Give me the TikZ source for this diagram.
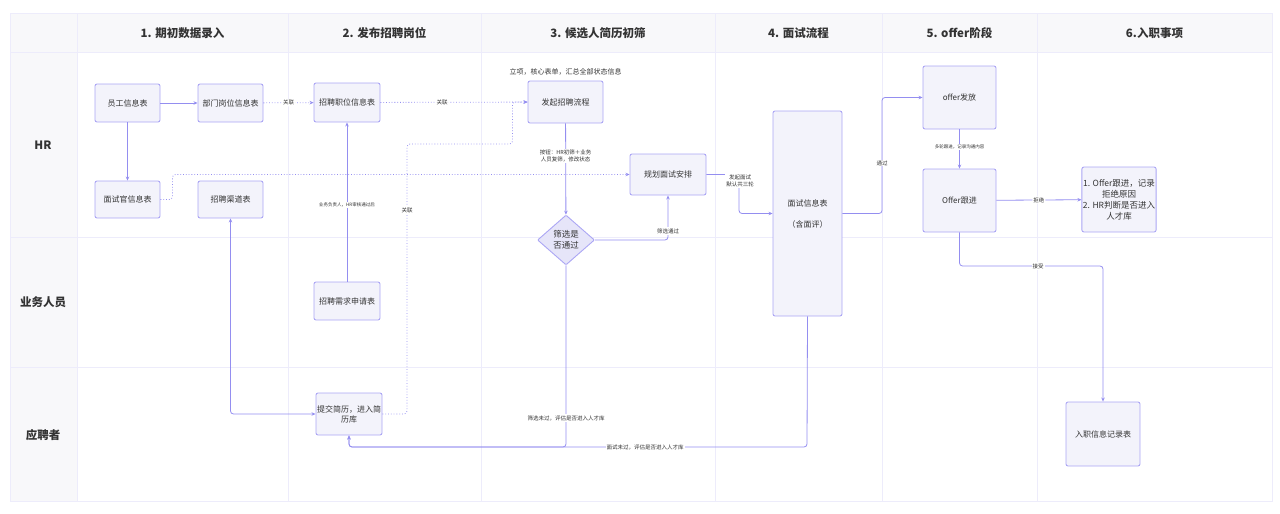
\documentclass[tikz,border=0pt]{standalone}
\usepackage{fontspec}
\setmainfont{Noto Sans CJK SC}
\usepackage{xcolor}
\usetikzlibrary{shapes.geometric,arrows.meta,calc}
\definecolor{laneLine}{HTML}{EDECFB}
\definecolor{headFill}{HTML}{F8F8FA}
\definecolor{boxDraw}{HTML}{ABA6F4}
\definecolor{boxFill}{HTML}{F3F3FB}
\definecolor{diaFill}{HTML}{E6E5F9}
\definecolor{flowLine}{HTML}{948EF0}
\definecolor{textGray}{HTML}{333333}

\tikzset{
  lanebox/.style={draw=boxDraw, fill=boxFill, rounded corners=2pt, line width=0.9pt,
    text=textGray, align=center, inner sep=1pt, font=\fontsize{8}{10}\selectfont},
  decision/.style={lanebox, diamond, fill=diaFill, rounded corners=1pt},
  flow/.style={draw=flowLine, line width=0.8pt, rounded corners=3pt,
    -{Stealth[length=4pt,width=3.5pt]}},
  assoc/.style={flow, dotted},
  lbl/.style={fill=white, inner sep=1pt, text=textGray, align=center,
    font=\fontsize{5.5}{7}\selectfont},
  tinylbl/.style={lbl, font=\fontsize{4.5}{6}\selectfont},
  headtxt/.style={text=textGray, font=\fontsize{11.5}{13}\selectfont\bfseries}
}

\begin{document}
\begin{tikzpicture}[x=1pt, y=-1pt]
  \useasboundingbox (0,0) rectangle (1280,514);

  % swimlane grid
  \fill[headFill] (10,13) rectangle (1272,52);
  \fill[headFill] (10,52) rectangle (77,501);
  \foreach \xx in {77,288,481,715,882,1037}
    \draw[laneLine, line width=0.8pt] (\xx,13) -- (\xx,501);
  \foreach \yy in {52,237,367}
    \draw[laneLine, line width=0.8pt] (10,\yy) -- (1272,\yy);
  \draw[laneLine, line width=0.8pt] (10,13) rectangle (1272,501);

  % column heads
  \foreach \cx/\txt in {182.5/{1. 期初数据录入}, 384.5/{2. 发布招聘岗位},
      598/{3. 候选人简历初筛}, 798.5/{4. 面试流程}, 959.5/{5. offer阶段},
      1154.5/{6.入职事项}}
    \node[headtxt] at (\cx,33) {\txt};

  % lane heads
  \node[headtxt] at (43,145) {HR};
  \node[headtxt] at (43,302) {业务人员};
  \node[headtxt] at (43,435) {应聘者};

  % nodes
  \node[lanebox, minimum width=65pt, minimum height=38pt] (staff) at (127.5,103) {员工信息表};
  \node[lanebox, minimum width=65pt, minimum height=38pt] (dept) at (230.5,103) {部门岗位信息表};
  \node[lanebox, minimum width=66pt, minimum height=39pt] (post) at (347,102.5) {招聘职位信息表};
  \node[lanebox, minimum width=75pt, minimum height=42pt] (launch) at (565.5,102) {发起招聘流程};
  \node[text=textGray, font=\fontsize{7}{9}\selectfont] (launchnote) at (565.5,72) {立项，核心表单，汇总全部状态信息};
  \node[lanebox, minimum width=65pt, minimum height=37pt] (intv) at (127.5,199.5) {面试官信息表};
  \node[lanebox, minimum width=65pt, minimum height=37pt] (channel) at (230.5,199.5) {招聘渠道表};
  \node[lanebox, minimum width=76pt, minimum height=41pt] (plan) at (668,174.5) {规划面试安排};
  \node[decision, minimum width=57pt, minimum height=50pt, inner sep=0pt,
        font=\fontsize{8.5}{11}\selectfont] (screen) at (566,240) {筛选是\\否通过};
  \node[lanebox, minimum width=69pt, minimum height=205pt] (interview) at (807.5,213.5) {面试信息表\\[11pt]（含面评）};
  \node[lanebox, minimum width=73pt, minimum height=63pt] (offer) at (959.5,97.5) {offer发放};
  \node[lanebox, minimum width=73pt, minimum height=63pt] (follow) at (959.5,200.5) {Offer跟进};
  \node[lanebox, minimum width=74pt, minimum height=65pt, font=\fontsize{8.5}{11}\selectfont] (reject) at (1119,199.5)
    {1. Offer跟进，记录\\拒绝原因\\2. HR判断是否进入\\人才库};
  \node[lanebox, minimum width=66pt, minimum height=38pt] (demand) at (347,301) {招聘需求申请表};
  \node[lanebox, minimum width=66pt, minimum height=42pt] (resume) at (349,414) {提交简历，进入简\\历库};
  \node[lanebox, minimum width=74pt, minimum height=64pt] (onboard) at (1103,434) {入职信息记录表};

  % connectors
  \draw[flow] (staff) -- (dept);
  \draw[flow] (staff) -- (intv);
  \draw[assoc] (dept) -- node[lbl] {关联} (post);
  \draw[assoc] (post) -- node[lbl, pos=0.42] {关联} (launch);
  \draw[assoc] (intv.east) -- ++(12,0) |- (plan.west);
  \draw[flow] (demand) -- (post);
  \node[tinylbl] at (347,205) {业务负责人，HR审核通过后};
  \draw[assoc] (resume.east) -| (407,144) -| ($(launch.west)+(-15,0)$) -- (launch.west);
  \node[lbl] at (407,210) {关联};
  \draw[flow] (launch) -- (screen);
  \node[lbl] at (565.5,156) {按钮：HR初筛＋业务\\人员复筛，修改状态};
  \draw[flow] (screen.east) -| (plan.south);
  \node[lbl] at (668,231) {筛选通过};
  \draw[flow] (screen.south) -- (566,447) -| (resume.south);
  \node[lbl] at (566,418) {筛选未过，评估是否进入人才库};
  \draw[flow] (interview.south) -- (807,447) -| (resume.south);
  \node[lbl] at (645,447) {面试未过，评估是否进入人才库};
  \draw[flow, {Stealth[length=4pt,width=3.5pt]}-{Stealth[length=4pt,width=3.5pt]}] (channel.south) |- (resume.west);
  \draw[flow] (plan.east) -- (739,174.5) |- (interview.west);
  \node[lbl] at (740,181) {发起面试\\默认共三轮};
  \draw[flow] (interview.east) -- (882,213.5) |- (offer.west);
  \node[lbl] at (882,163) {通过};
  \draw[flow] (offer) -- (follow);
  \node[tinylbl] at (959.5,147) {多轮跟进，记录沟通内容};
  \draw[flow] (follow) -- node[lbl] {拒绝} (reject);
  \draw[flow] (follow.south) -- (959.5,266) -| (onboard.north);
  \node[lbl] at (1038,266) {接受};
\end{tikzpicture}
\end{document}
